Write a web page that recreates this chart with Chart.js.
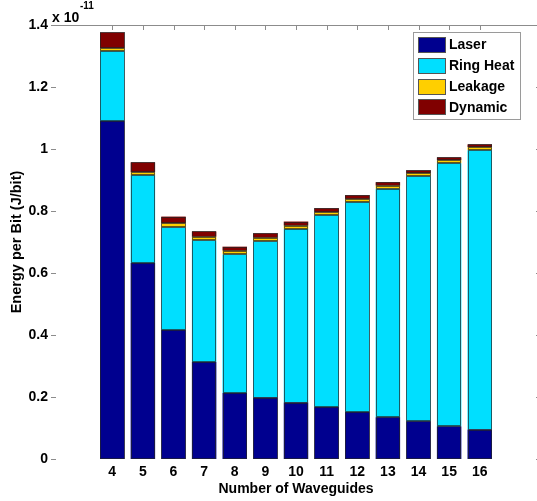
<!DOCTYPE html>
<html>
<head>
<meta charset="utf-8">
<script src="https://cdn.jsdelivr.net/npm/chart.js@4/dist/chart.umd.min.js"></script>
<style>
  html, body { margin: 0; padding: 0; background: #fff; overflow: hidden; }
  #energyChart { display: block; }
</style>
</head>
<body>
<canvas id="energyChart" width="545" height="501"></canvas>
<script>
// energy per bit, in units of 1e-11 J/bit
const waveguides = [4, 5, 6, 7, 8, 9, 10, 11, 12, 13, 14, 15, 16];
const laser    = [1.090, 0.632, 0.416, 0.313, 0.213, 0.198, 0.182, 0.168, 0.152, 0.135, 0.122, 0.105, 0.095];
const ringHeat = [0.225, 0.283, 0.331, 0.392, 0.447, 0.504, 0.560, 0.618, 0.676, 0.737, 0.790, 0.849, 0.901];
const leakage  = [0.010, 0.010, 0.013, 0.012, 0.012, 0.012, 0.011, 0.010, 0.011, 0.010, 0.010, 0.010, 0.010];
const dynamic  = [0.051, 0.032, 0.022, 0.017, 0.013, 0.014, 0.013, 0.013, 0.012, 0.011, 0.009, 0.009, 0.009];
const yTicks = [0, 0.2, 0.4, 0.6, 0.8, 1, 1.2, 1.4];

const FONT = 'Liberation Sans, Helvetica, Arial, sans-serif';

function series(label, values, color){
  return {
    label: label,
    data: waveguides.map((n, i) => ({x: n, y: values[i]})),
    backgroundColor: color,
    borderWidth: 0,
    barPercentage: 0.8,
    categoryPercentage: 1.0
  };
}

// edges drawn centred on segment boundaries, so thin segments keep their fill
const barEdges = {
  id: 'barEdges',
  afterDatasetsDraw(chart){
    const ctx = chart.ctx;
    ctx.save();
    ctx.strokeStyle = 'rgba(35,35,35,0.7)';
    ctx.lineWidth = 1;
    chart.data.datasets.forEach((ds, i) => {
      chart.getDatasetMeta(i).data.forEach(el => {
        const {x, y, base, width} = el.getProps(['x', 'y', 'base', 'width'], true);
        const l = Math.round(x - width / 2) + 0.5;
        const r = Math.round(x + width / 2) - 0.5;
        const t = Math.round(y) + 0.5;
        const b = Math.round(base) - 0.5;
        ctx.strokeRect(l, t, r - l, b - t);
      });
    });
    ctx.restore();
  }
};

// matlab style inward ticks + top box line
const axisTicks = {
  id: 'axisTicks',
  afterDraw(chart){
    const {ctx, chartArea: a, scales: {x, y}} = chart;
    ctx.save();
    ctx.strokeStyle = '#8c8c8c';
    ctx.lineWidth = 1;
    ctx.beginPath();
    ctx.moveTo(a.left, a.top + 0.5);
    ctx.lineTo(a.right, a.top + 0.5);
    for(const v of yTicks){
      const py = Math.round(y.getPixelForValue(v)) + 0.5;
      ctx.moveTo(a.left, py); ctx.lineTo(a.left + 5, py);
      ctx.moveTo(a.right, py); ctx.lineTo(a.right - 5, py);
    }
    for(const n of waveguides){
      const px = Math.round(x.getPixelForValue(n)) + 0.5;
      ctx.moveTo(px, a.top); ctx.lineTo(px, a.top + 5);
    }
    ctx.stroke();

    // exponent label
    ctx.fillStyle = '#000';
    ctx.textBaseline = 'alphabetic';
    ctx.textAlign = 'left';
    ctx.font = 'bold 14px ' + FONT;
    ctx.fillText('x 10', 52, 22);
    ctx.font = 'bold 10px ' + FONT;
    ctx.fillText('-11', 80, 9);
    ctx.restore();
  }
};

// legend box in the upper right corner
const boxLegend = {
  id: 'boxLegend',
  afterDraw(chart){
    const ctx = chart.ctx;
    const left = 413.5, top = 32.5, w = 107, h = 87;
    ctx.save();
    ctx.fillStyle = '#fff';
    ctx.fillRect(left, top, w, h);
    ctx.strokeStyle = '#9a9a9a';
    ctx.lineWidth = 1;
    ctx.strokeRect(left, top, w, h);
    ctx.font = 'bold 14px ' + FONT;
    ctx.textBaseline = 'middle';
    ctx.textAlign = 'left';
    chart.data.datasets.forEach((ds, i) => {
      const cy = 44.5 + i * 20.8;
      ctx.fillStyle = ds.backgroundColor;
      ctx.fillRect(418.5, Math.round(cy - 7.5) + 0.5, 27, 15);
      ctx.strokeStyle = '#555';
      ctx.strokeRect(418.5, Math.round(cy - 7.5) + 0.5, 27, 15);
      ctx.fillStyle = '#000';
      ctx.fillText(ds.label, 449, cy + 1);
    });
    ctx.restore();
  }
};

new Chart(document.getElementById('energyChart'), {
  type: 'bar',
  data: {
    datasets: [
      series('Laser', laser, 'rgb(0,0,143)'),
      series('Ring Heat', ringHeat, 'rgb(0,223,255)'),
      series('Leakage', leakage, 'rgb(255,207,0)'),
      series('Dynamic', dynamic, 'rgb(128,0,0)')
    ]
  },
  options: {
    responsive: false,
    animation: false,
    layout: {padding: {left: 0, right: 4, top: 25, bottom: 0}},
    plugins: {legend: {display: false}, tooltip: {enabled: false}},
    scales: {
      x: {
        type: 'linear',
        stacked: true,
        min: 2,
        max: 18,
        offset: false,
        grid: {display: false, drawTicks: false},
        border: {display: false},
        afterFit: (s) => { s.height = 42; },
        afterBuildTicks: (s) => { s.ticks = waveguides.map(v => ({value: v})); },
        ticks: {
          padding: 5,
          maxRotation: 0,
          autoSkip: false,
          color: '#000',
          font: {family: FONT, size: 14, weight: 'bold'},
          callback: (v) => String(v)
        },
        title: {
          display: true,
          text: 'Number of Waveguides',
          color: '#000',
          font: {family: FONT, size: 14, weight: 'bold'},
          padding: {top: 0, bottom: 3}
        }
      },
      y: {
        stacked: true,
        min: 0,
        max: 1.4,
        grid: {display: false, drawTicks: false},
        border: {display: false},
        afterFit: (s) => { s.width = 51; },
        afterBuildTicks: (s) => { s.ticks = yTicks.map(v => ({value: v})); },
        ticks: {
          padding: 3,
          color: '#000',
          font: {family: FONT, size: 14, weight: 'bold'},
          callback: (v) => String(Math.round(v * 10) / 10)
        },
        title: {
          display: true,
          text: 'Energy per Bit (J/bit)',
          color: '#000',
          font: {family: FONT, size: 14.5, weight: 'bold'},
          padding: {top: 8, bottom: 0}
        }
      }
    }
  },
  plugins: [barEdges, axisTicks, boxLegend]
});
</script>
</body>
</html>
